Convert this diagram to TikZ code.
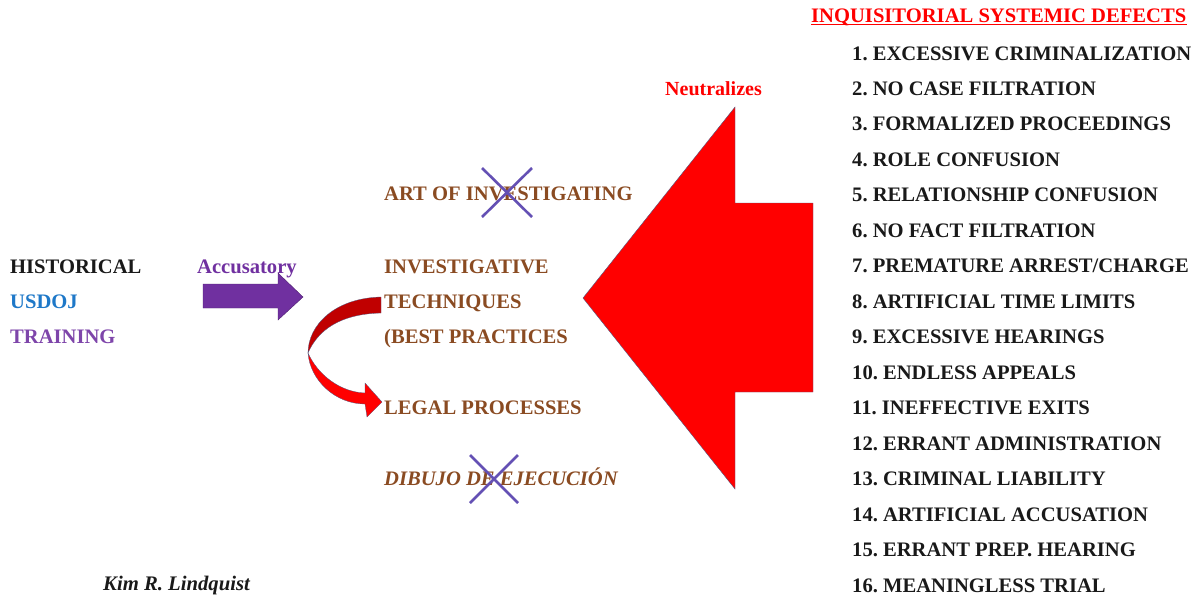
\documentclass[tikz,border=0pt]{standalone}
\usepackage{fontspec}
\setmainfont{Liberation Serif}
\usetikzlibrary{positioning}
\definecolor{brownish}{RGB}{138,75,34}
\definecolor{doj}{RGB}{30,120,200}
\definecolor{violet}{RGB}{112,48,160}
\definecolor{crossblue}{RGB}{100,80,180}
\definecolor{darkred}{RGB}{192,0,0}
\definecolor{edgegray}{RGB}{80,90,130}
\frenchspacing

\begin{document}
\begin{tikzpicture}[x=1pt, y=-1pt,
	txt/.style={anchor=base west, inner sep=0pt, font=\fontsize{20.6}{24}\selectfont\bfseries},
	defect/.style={txt, black!90},
	mid/.style={txt, brownish},
	cross/.style={crossblue, line width=2.6pt}]
	\useasboundingbox (0,0) rectangle (1199,598);

	% left column
	\node[txt, black!90] (hist) at (10,273) {HISTORICAL};
	\node[txt, doj] (usdoj) at (10,308) {USDOJ};
	\node[txt, violet!90] (train) at (10,343) {TRAINING};
	\node[txt, violet] (accus) at (197,273) {Accusatory};
	\fill[violet, draw=violet!70!black, line width=0.4pt] (203,284) -- (278,284) -- (278,273) -- (303,297) -- (278,320) -- (278,308) -- (203,308) -- cycle;

	% middle column
	\node[mid] (art) at (384,200) {ART OF INVESTIGATING};
	\node[mid] (inv) at (384,273) {INVESTIGATIVE};
	\node[mid] (tech) at (384,308) {TECHNIQUES};
	\node[mid] (best) at (384,343) {(BEST PRACTICES};
	\node[mid] (legal) at (384,414) {LEGAL PROCESSES};
	\node[mid, font=\fontsize{20.6}{24}\selectfont\bfseries\itshape] (dibujo) at (384,485) {DIBUJO DE EJECUCIÓN};
	\draw[cross] (482,168) -- (532,217) (532,168) -- (482,217);
	\draw[cross] (470,455) -- (518,503) (518,455) -- (470,503);

	% curved arrow
	\fill[darkred, draw=edgegray, line width=0.3pt] (381,297) .. controls (335,298) and (308,325) .. (308,353)
		.. controls (318,330) and (340,314) .. (381,313) -- cycle;
	\fill[red, draw=edgegray, line width=0.3pt] (308,353) .. controls (310,380) and (335,404) .. (365,404)
		-- (367,417) -- (382,402) -- (365,383) -- (365,393)
		.. controls (340,392) and (318,375) .. (308,353) -- cycle;

	% big arrow
	\node[txt, red, font=\fontsize{20}{24}\selectfont\bfseries] (neut) at (665,95) {Neutralizes};
	\fill[red, draw=edgegray, line width=0.4pt] (583,298) -- (735,107) -- (735,203) -- (813,203) -- (813,392) -- (735,392) -- (735,489) -- cycle;

	% right column
	\node[txt, red] (title) at (811,22) {INQUISITORIAL SYSTEMIC DEFECTS};
	\draw[red, line width=1.2pt] ([yshift=-2.5pt]title.base west) -- ([yshift=-2.5pt]title.base east);
	\foreach \t [count=\i] in {EXCESSIVE CRIMINALIZATION, NO CASE FILTRATION, FORMALIZED PROCEEDINGS,
		ROLE CONFUSION, RELATIONSHIP CONFUSION, NO FACT FILTRATION, PREMATURE ARREST/CHARGE,
		ARTIFICIAL TIME LIMITS, EXCESSIVE HEARINGS, ENDLESS APPEALS, INEFFECTIVE EXITS,
		ERRANT ADMINISTRATION, CRIMINAL LIABILITY, ARTIFICIAL ACCUSATION, ERRANT PREP. HEARING,
		MEANINGLESS TRIAL}
		\node[defect] (d\i) at (852,{60+35.47*(\i-1)}) {\i. \t};

	\node[txt, black!90, font=\fontsize{20.7}{24}\selectfont\bfseries\itshape] (author) at (103,590) {Kim R. Lindquist};
\end{tikzpicture}
\end{document}
